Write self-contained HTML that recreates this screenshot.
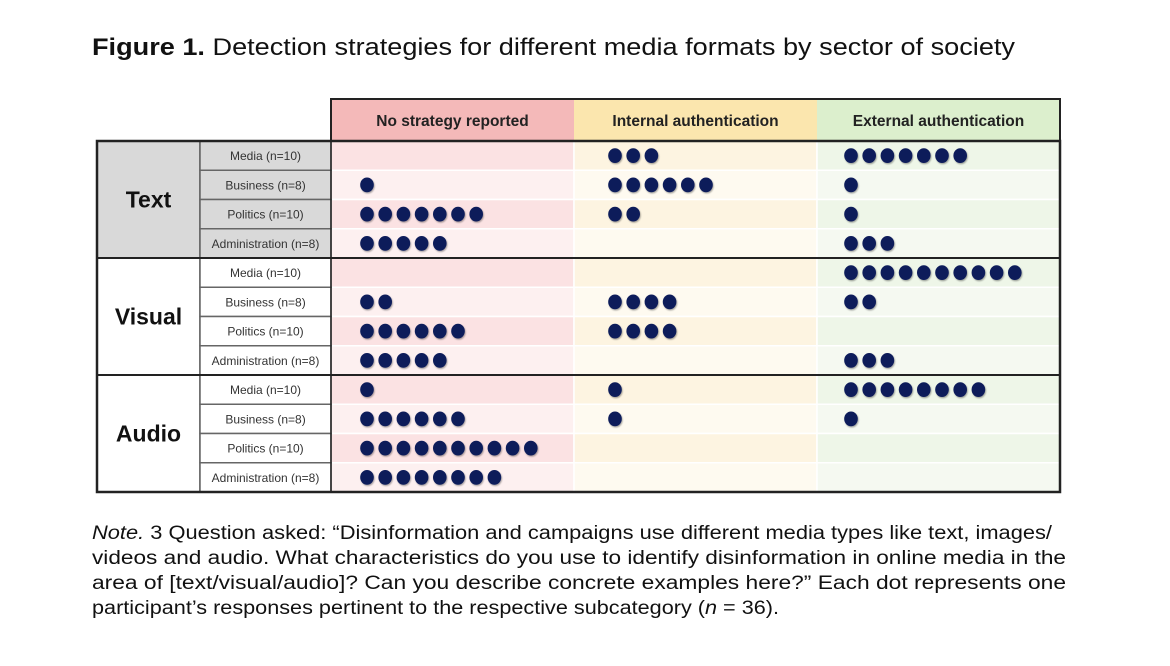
<!DOCTYPE html>
<html><head><meta charset="utf-8"><style>
body{margin:0;background:#fff;width:1170px;height:666px;overflow:hidden;font-family:"Liberation Sans",sans-serif}
svg{position:absolute;left:0;top:0}
</style></head><body>
<svg id="chart" width="1170" height="666">
<defs><filter id="sh" x="-50%" y="-50%" width="200%" height="200%"><feDropShadow dx="0.8" dy="1.2" stdDeviation="0.8" flood-color="#000" flood-opacity="0.35"/></filter></defs>
<text x="92" y="55" font-size="24" fill="#111" textLength="923" lengthAdjust="spacingAndGlyphs"><tspan font-weight="bold">Figure 1.</tspan> Detection strategies for different media formats by sector of society</text>
<g font-size="19" fill="#111">
<text x="92" y="539" textLength="960" lengthAdjust="spacingAndGlyphs"><tspan font-style="italic">Note.</tspan> 3 Question asked: “Disinformation and campaigns use different media types like text, images/</text>
<text x="92" y="564" textLength="974" lengthAdjust="spacingAndGlyphs">videos and audio. What characteristics do you use to identify disinformation in online media in the</text>
<text x="92" y="589" textLength="974" lengthAdjust="spacingAndGlyphs">area of [text/visual/audio]? Can you describe concrete examples here?” Each dot represents one</text>
<text x="92" y="614" textLength="687" lengthAdjust="spacingAndGlyphs">participant’s responses pertinent to the respective subcategory (<tspan font-style="italic">n</tspan> = 36).</text>
</g>
</svg>
<script>
const formats=["Text","Visual","Audio"];
const sectors=["Media (n=10)","Business (n=8)","Politics (n=10)","Administration (n=8)"];
const strategies=["No strategy reported","Internal authentication","External authentication"];
const noStrategy=[0,1,7,5, 0,2,6,5, 1,6,10,8];
const internalAuth=[3,6,2,0, 0,4,4,0, 1,1,0,0];
const externalAuth=[7,1,1,3, 10,2,0,3, 8,1,0,0];
const series=[noStrategy,internalAuth,externalAuth];

const svg=document.getElementById('chart');
const NS='http://www.w3.org/2000/svg';
function mk(t,a,p){const e=document.createElementNS(NS,t);for(const k in a)e.setAttribute(k,a[k]);(p||svg).appendChild(e);return e;}
const L=97,C1=200,C2=331,CW=243,HT=99,TOP=141,RH=29.25;
const colX=i=>C2+i*CW;
const rowY=r=>TOP+r*RH;
const dotX=(c,k)=>colX(c)+(c==1?41:c==0?36:34)+k*18.2;
const hdrFill=["#f4b9b9","#fbe6ae","#dcefcd"];
const bodyA=["#fbe2e3","#fdf4e1","#eef6e8"];
const bodyB=["#fdf0f0","#fefaf0","#f5f9f1"];
strategies.forEach((s,i)=>{
  const g=mk('g',{});
  
  
  mk('rect',{x:colX(i),y:HT,width:CW,height:TOP-HT,fill:hdrFill[i]},g);
  const t=mk('text',{x:colX(i)+CW/2,y:126,'text-anchor':'middle','font-size':15.5,'font-weight':'bold',fill:'#222'},g);t.textContent=s;
});
for(let r=0;r<12;r++){
  for(let c=0;c<3;c++){
    const cell=mk('rect',{x:colX(c),y:rowY(r),width:CW,height:RH,fill:(r%2==0?bodyA:bodyB)[c],stroke:'#fff','stroke-width':1.5});
    
    
  }
}
formats.forEach((f,g)=>{
  const gray=g==0;
  const grp=mk('g',{});
  
  
  mk('rect',{x:L,y:rowY(g*4),width:C1-L,height:RH*4,fill:gray?'#d9d9d9':'#fff',stroke:'#222','stroke-width':1.5},grp);
  const t=mk('text',{x:(L+C1)/2,y:rowY(g*4)+RH*2+8,'text-anchor':'middle','font-size':23,'font-weight':'bold',fill:'#111'},grp);t.textContent=f;
  sectors.forEach((s,j)=>{
    mk('rect',{x:C1,y:rowY(g*4+j),width:C2-C1,height:RH,fill:gray?'#d9d9d9':'#fff',stroke:'#666','stroke-width':1.5},grp);
    const st=mk('text',{x:(C1+C2)/2,y:rowY(g*4+j)+19,'text-anchor':'middle','font-size':12,fill:'#333'},grp);st.textContent=s;
  });
});
series.forEach((arr,c)=>{
  arr.forEach((n,r)=>{
    for(let k=0;k<n;k++){
      const d=mk('ellipse',{cx:dotX(c,k),cy:rowY(r)+RH/2,rx:6.8,ry:7.4,fill:'#0d1b5a',filter:'url(#sh)'});
      
      
    }
  });
});
mk('rect',{x:C2,y:HT,width:CW*3,height:TOP-HT,fill:'none',stroke:'#222','stroke-width':2});
mk('rect',{x:L,y:TOP,width:C2+CW*3-L,height:RH*12,fill:'none',stroke:'#222','stroke-width':2.5});
[4,8].forEach(r=>mk('line',{x1:L,x2:C2+CW*3,y1:rowY(r),y2:rowY(r),stroke:'#222','stroke-width':2}));
mk('line',{x1:C2,x2:C2,y1:HT,y2:TOP+RH*12,stroke:'#222','stroke-width':1.5});
</script>
</body></html>
